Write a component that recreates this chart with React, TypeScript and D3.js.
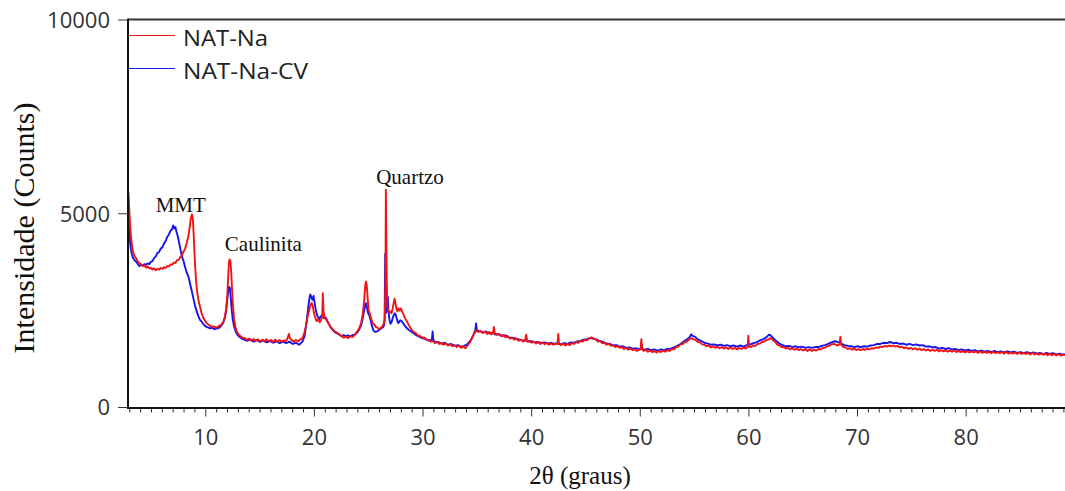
import React from "react";
import * as d3 from "d3";

// XRD scans: [2θ (degrees), intensity (counts)]
const natNa: [number, number][] = [
  [2.84,5450],[2.88,5550],[2.95,5150],[3.02,4800],[3.1,4450],[3.2,4200],[3.3,4020],[3.45,3900],[3.6,3850],[3.75,3760],[3.9,3720],[4.05,3690],[4.2,3650],[4.35,3670],[4.5,3610],[4.65,3640],[4.8,3590],[4.95,3600],[5.1,3560],[5.25,3590],[5.4,3540],[5.55,3580],[5.7,3560],[5.85,3600],[6.0,3580],[6.15,3620],[6.3,3600],[6.45,3650],[6.6,3640],[6.75,3690],[6.9,3680],[7.05,3740],[7.2,3730],[7.35,3800],[7.5,3810],[7.65,3880],[7.8,3930],[7.95,4020],[8.1,4100],[8.25,4250],[8.4,4420],[8.52,4650],[8.62,4880],[8.72,4980],[8.8,4900],[8.88,4500],[8.95,4050],[9.02,3650],[9.1,3300],[9.2,3000],[9.32,2780],[9.45,2620],[9.6,2450],[9.75,2330],[9.9,2250],[10.05,2190],[10.2,2150],[10.4,2110],[10.6,2080],[10.8,2090],[11.0,2060],[11.2,2100],[11.4,2130],[11.6,2200],[11.75,2330],[11.88,2550],[11.98,2900],[12.06,3350],[12.13,3750],[12.2,3820],[12.27,3780],[12.34,3500],[12.42,3050],[12.5,2650],[12.6,2300],[12.72,2080],[12.85,1960],[13.0,1890],[13.2,1840],[13.4,1800],
  [13.6,1790],[13.8,1740],[14.0,1780],[14.2,1720],[14.4,1770],[14.6,1730],[14.8,1760],[15.0,1700],[15.2,1750],[15.4,1710],[15.6,1760],[15.8,1700],[16.0,1740],[16.2,1690],[16.4,1750],[16.6,1700],[16.8,1740],[17.0,1700],[17.2,1730],[17.4,1720],[17.55,1800],[17.65,1900],[17.75,1790],[17.9,1740],[18.1,1700],[18.3,1740],[18.5,1710],[18.7,1760],[18.9,1790],[19.05,1900],[19.2,2080],[19.35,2300],[19.5,2500],[19.62,2620],[19.74,2700],[19.85,2620],[19.95,2450],[20.08,2320],[20.2,2230],[20.35,2270],[20.5,2200],[20.62,2260],[20.72,2350],[20.78,2950],[20.84,2500],[20.92,2330],[21.05,2290],[21.2,2210],[21.35,2140],[21.5,2080],[21.7,2010],[21.9,1960],[22.1,1930],[22.3,1880],[22.5,1850],[22.7,1800],[22.9,1830],[23.1,1790],[23.3,1840],[23.5,1820],[23.7,1870],[23.9,1950],[24.1,2030],[24.3,2180],[24.45,2400],[24.58,2750],[24.68,3150],[24.76,3250],[24.84,3100],[24.92,2750],[25.0,2500],[25.1,2420],[25.22,2300],[25.35,2180],[25.5,2150],[25.65,2080],[25.8,2060],[25.95,2030],[26.1,2050],[26.25,2090],[26.38,2160],[26.48,2300],[26.54,3200],[26.58,5620],[26.62,4400],[26.66,3300],[26.72,2600],[26.8,2500],[26.9,2450],[27.0,2480],[27.1,2430],[27.2,2550],[27.3,2700],[27.38,2810],[27.46,2700],[27.55,2550],[27.65,2480],[27.75,2560],[27.85,2500],[27.95,2560],[28.05,2500],[28.2,2400],[28.35,2300],[28.5,2230],[28.7,2120],[28.9,2030],[29.1,1960],[29.3,1930],[29.5,1870],[29.7,1850],[29.9,1800],
  [30.1,1810],[30.3,1760],[30.5,1740],[30.7,1700],[30.9,1720],[31.1,1660],[31.3,1690],[31.5,1640],[31.7,1660],[31.9,1620],[32.1,1650],[32.3,1600],[32.5,1630],[32.7,1580],[32.9,1610],[33.1,1560],[33.3,1600],[33.5,1540],[33.7,1570],[33.9,1530],[34.1,1600],[34.3,1680],[34.5,1780],[34.7,1900],[34.9,1990],[35.1,1950],[35.3,1980],[35.5,1920],[35.7,1960],[35.9,1900],[36.1,1950],[36.3,1890],[36.45,1930],[36.52,2080],[36.6,1910],[36.8,1880],[37.0,1900],[37.2,1840],[37.4,1870],[37.6,1810],[37.8,1840],[38.0,1780],[38.2,1800],[38.4,1750],[38.6,1780],[38.8,1720],[39.0,1750],[39.2,1700],[39.4,1730],[39.5,1880],[39.6,1700],[39.8,1720],
  [40.0,1670],[40.2,1700],[40.4,1650],[40.6,1690],[40.8,1640],[41.0,1680],[41.2,1630],[41.4,1670],[41.6,1620],[41.8,1660],[42.0,1620],[42.2,1650],[42.38,1640],[42.45,1900],[42.52,1640],[42.7,1610],[42.9,1650],[43.1,1600],[43.3,1640],[43.5,1610],[43.7,1660],[43.9,1640],[44.1,1690],[44.3,1670],[44.5,1720],[44.7,1700],[44.9,1750],[45.1,1730],[45.3,1790],[45.5,1810],[45.7,1770],[45.9,1760],[46.1,1700],[46.3,1720],[46.5,1660],[46.7,1670],[46.9,1620],[47.1,1640],[47.3,1590],[47.5,1610],[47.7,1560],[47.9,1580],[48.1,1540],[48.3,1560],[48.5,1510],[48.7,1540],[48.9,1490],[49.1,1520],[49.3,1480],[49.5,1500],[49.7,1460],[49.9,1490],
  [50.02,1500],[50.1,1760],[50.18,1500],[50.3,1460],[50.5,1490],[50.7,1440],[50.9,1470],[51.1,1430],[51.3,1460],[51.5,1420],[51.7,1460],[51.9,1430],[52.1,1470],[52.3,1440],[52.5,1480],[52.7,1460],[52.9,1510],[53.1,1500],[53.3,1560],[53.5,1570],[53.7,1630],[53.9,1640],[54.1,1690],[54.3,1700],[54.5,1760],[54.7,1790],[54.9,1760],[55.1,1740],[55.3,1690],[55.5,1680],[55.7,1630],[55.9,1620],[56.1,1580],[56.3,1600],[56.5,1550],[56.7,1580],[56.9,1540],[57.1,1570],[57.3,1530],[57.5,1560],[57.7,1520],[57.9,1550],[58.1,1510],[58.3,1550],[58.5,1510],[58.7,1540],[58.9,1500],[59.1,1540],[59.3,1510],[59.5,1550],[59.7,1520],[59.88,1560],[59.95,1850],[60.02,1570],
  [60.2,1560],[60.4,1600],[60.6,1590],[60.8,1640],[61.0,1650],[61.2,1690],[61.4,1700],[61.6,1740],[61.8,1760],[62.0,1790],[62.2,1740],[62.4,1700],[62.6,1630],[62.8,1600],[63.0,1560],[63.2,1560],[63.4,1520],[63.6,1540],[63.8,1500],[64.0,1530],[64.2,1490],[64.4,1520],[64.6,1480],[64.8,1510],[65.0,1470],[65.2,1500],[65.4,1460],[65.6,1500],[65.8,1460],[66.0,1490],[66.2,1470],[66.4,1510],[66.6,1500],[66.8,1540],[67.0,1540],[67.2,1580],[67.4,1590],[67.6,1630],[67.8,1640],[68.0,1620],[68.2,1600],[68.35,1640],[68.42,1830],[68.5,1620],[68.7,1560],[68.9,1550],[69.1,1510],[69.3,1530],[69.5,1490],[69.7,1520],[69.9,1480],
  [70.1,1510],[70.3,1480],[70.5,1510],[70.7,1490],[70.9,1520],[71.1,1500],[71.3,1530],[71.5,1520],[71.7,1550],[71.9,1540],[72.1,1570],[72.3,1560],[72.5,1590],[72.7,1570],[72.9,1600],[73.1,1580],[73.3,1600],[73.5,1570],[73.7,1590],[73.9,1550],[74.1,1570],[74.3,1530],[74.5,1550],[74.7,1510],[74.9,1540],[75.1,1500],[75.3,1530],[75.5,1490],[75.7,1520],[75.9,1480],[76.1,1510],[76.3,1470],[76.5,1500],[76.7,1460],[76.9,1490],[77.1,1460],[77.3,1490],[77.5,1450],[77.7,1480],[77.9,1450],[78.1,1480],[78.3,1440],[78.5,1470],[78.7,1440],[78.9,1470],[79.1,1430],[79.3,1460],[79.5,1430],[79.7,1460],[79.9,1420],
  [80.1,1460],[80.3,1420],[80.5,1450],[80.7,1420],[80.9,1450],[81.1,1410],[81.3,1450],[81.5,1410],[81.7,1440],[81.9,1410],[82.1,1440],[82.3,1400],[82.5,1440],[82.7,1400],[82.9,1430],[83.1,1400],[83.3,1430],[83.5,1390],[83.7,1430],[83.9,1390],[84.1,1420],[84.3,1390],[84.5,1420],[84.7,1380],[84.9,1420],[85.1,1380],[85.3,1410],[85.5,1380],[85.7,1410],[85.9,1370],[86.1,1410],[86.3,1370],[86.5,1400],[86.7,1360],[86.9,1400],[87.1,1360],[87.3,1390],[87.5,1350],[87.7,1390],[87.9,1350],[88.1,1380],[88.3,1340],[88.5,1380],[88.7,1340],[88.9,1370],[89.1,1350],
];

const natNaCv: [number, number][] = [
  [2.84,5000],[2.88,4850],[2.95,4550],[3.02,4300],[3.1,4100],[3.2,3950],[3.3,3860],[3.45,3800],[3.6,3760],[3.75,3700],[3.9,3650],[4.05,3690],[4.2,3660],[4.35,3700],[4.5,3680],[4.65,3720],[4.8,3700],[4.95,3760],[5.1,3780],[5.25,3860],[5.4,3900],[5.55,3990],[5.7,4010],[5.85,4100],[6.0,4130],[6.15,4230],[6.3,4290],[6.45,4400],[6.6,4460],[6.75,4560],[6.9,4600],[7.0,4700],[7.1,4620],[7.2,4660],[7.3,4540],[7.42,4420],[7.55,4250],[7.68,4060],[7.8,3900],[7.95,3780],[8.1,3620],[8.25,3480],[8.4,3380],[8.55,3200],[8.7,3020],[8.85,2830],[9.0,2640],[9.15,2500],[9.3,2370],[9.45,2270],[9.6,2220],[9.8,2140],[10.0,2090],[10.2,2070],[10.4,2040],[10.6,2060],[10.8,2020],[11.0,2040],[11.2,2050],[11.4,2100],[11.6,2180],[11.75,2310],[11.88,2500],[11.98,2780],[12.07,3000],[12.15,3120],[12.22,3080],[12.3,2850],[12.38,2550],[12.48,2280],[12.6,2100],[12.75,1960],[12.9,1880],[13.1,1820],[13.3,1780],[13.5,1760],
  [13.8,1720],[14.1,1760],[14.4,1700],[14.7,1740],[15.0,1690],[15.3,1730],[15.6,1680],[15.9,1720],[16.2,1670],[16.5,1710],[16.8,1660],[17.1,1700],[17.4,1660],[17.7,1700],[18.0,1640],[18.3,1670],[18.6,1620],[18.9,1700],[19.1,1850],[19.25,2150],[19.4,2500],[19.52,2780],[19.62,2920],[19.72,2850],[19.82,2780],[19.92,2880],[20.02,2700],[20.15,2480],[20.3,2350],[20.45,2280],[20.6,2360],[20.75,2380],[20.9,2300],[21.05,2320],[21.2,2230],[21.35,2150],[21.5,2060],[21.7,2000],[21.9,1940],[22.1,1910],[22.3,1880],[22.5,1840],[22.7,1870],[22.9,1840],[23.1,1860],[23.3,1830],[23.5,1870],[23.7,1880],[23.9,1920],[24.1,2000],[24.3,2120],[24.45,2300],[24.58,2500],[24.68,2650],[24.76,2690],[24.85,2560],[24.95,2430],[25.05,2380],[25.15,2280],[25.3,2100],[25.45,1980],[25.6,1950],[25.75,1960],[25.9,1990],[26.05,2020],[26.2,2050],[26.35,2080],[26.46,2200],[26.52,3970],[26.56,3000],[26.62,2450],[26.7,2550],[26.76,2850],[26.82,2500],[26.9,2280],[27.0,2160],[27.1,2200],[27.2,2300],[27.3,2380],[27.4,2430],[27.5,2380],[27.6,2280],[27.7,2180],[27.8,2200],[27.9,2250],[28.0,2240],[28.15,2180],[28.3,2120],[28.5,2050],[28.7,2000],[28.9,1960],[29.1,1920],[29.3,1880],[29.5,1850],[29.7,1820],[29.9,1790],
  [30.1,1780],[30.3,1750],[30.5,1730],[30.7,1740],[30.82,1760],[30.88,1960],[30.95,1740],[31.1,1700],[31.4,1690],[31.7,1650],[32.0,1670],[32.3,1620],[32.6,1640],[32.9,1590],[33.2,1610],[33.5,1570],[33.8,1590],[34.1,1640],[34.4,1740],[34.65,1880],[34.82,2000],[34.88,2170],[34.95,2000],[35.2,1970],[35.5,1940],[35.8,1960],[36.1,1910],[36.4,1930],[36.7,1880],[37.0,1890],[37.3,1850],[37.6,1860],[37.9,1810],[38.2,1800],[38.5,1780],[38.8,1760],[39.1,1740],[39.4,1730],[39.7,1700],
  [40.0,1710],[40.3,1680],[40.6,1690],[40.9,1660],[41.2,1680],[41.5,1650],[41.8,1670],[42.1,1640],[42.4,1660],[42.7,1630],[43.0,1660],[43.3,1640],[43.6,1680],[43.9,1670],[44.2,1710],[44.5,1720],[44.8,1750],[45.1,1760],[45.4,1790],[45.7,1780],[46.0,1750],[46.3,1710],[46.6,1690],[46.9,1650],[47.2,1640],[47.5,1600],[47.8,1610],[48.1,1570],[48.4,1580],[48.7,1540],[49.0,1550],[49.3,1520],[49.6,1530],[49.9,1500],
  [50.05,1520],[50.1,1640],[50.16,1510],[50.4,1490],[50.7,1510],[51.0,1480],[51.3,1500],[51.6,1470],[51.9,1500],[52.2,1480],[52.5,1510],[52.8,1520],[53.1,1550],[53.4,1590],[53.7,1640],[54.0,1700],[54.3,1760],[54.5,1800],[54.7,1890],[54.8,1850],[55.0,1830],[55.3,1760],[55.6,1720],[55.9,1670],[56.2,1650],[56.5,1620],[56.8,1630],[57.1,1600],[57.4,1620],[57.7,1590],[58.0,1610],[58.3,1580],[58.6,1600],[58.9,1570],[59.2,1600],[59.5,1570],[59.8,1610],
  [60.1,1620],[60.4,1660],[60.7,1680],[61.0,1730],[61.3,1760],[61.6,1810],[61.85,1880],[62.0,1860],[62.2,1800],[62.5,1720],[62.8,1650],[63.1,1610],[63.4,1580],[63.7,1590],[64.0,1560],[64.3,1580],[64.6,1550],[64.9,1570],[65.2,1540],[65.5,1560],[65.8,1540],[66.1,1560],[66.4,1560],[66.7,1590],[67.0,1610],[67.3,1640],[67.6,1680],[67.9,1710],[68.2,1690],[68.5,1650],[68.8,1610],[69.1,1590],[69.4,1580],[69.7,1560],
  [70.0,1580],[70.3,1560],[70.6,1580],[70.9,1570],[71.2,1600],[71.5,1610],[71.8,1640],[72.1,1640],[72.4,1670],[72.7,1660],[73.0,1690],[73.3,1660],[73.6,1670],[73.9,1640],[74.2,1650],[74.5,1620],[74.8,1640],[75.1,1610],[75.4,1630],[75.7,1600],[76.0,1610],[76.3,1570],[76.6,1580],[76.9,1550],[77.2,1560],[77.5,1520],[77.8,1540],[78.1,1510],[78.4,1530],[78.7,1500],[79.0,1510],[79.3,1480],[79.6,1500],[79.9,1470],
  [80.2,1490],[80.5,1460],[80.8,1480],[81.1,1450],[81.4,1470],[81.7,1440],[82.0,1460],[82.3,1430],[82.6,1460],[82.9,1430],[83.2,1450],[83.5,1420],[83.8,1450],[84.1,1420],[84.4,1440],[84.7,1410],[85.0,1430],[85.3,1400],[85.6,1430],[85.9,1400],[86.2,1420],[86.5,1390],[86.8,1410],[87.1,1380],[87.4,1410],[87.7,1380],[88.0,1400],[88.3,1370],[88.6,1390],[88.9,1360],[89.1,1380],
];

const seriesNames = ["NAT-Na", "NAT-Na-CV"];
const seriesColors = ["#f01414", "#1414f0"];

const yTicks = [0, 5000, 10000];
const xMajorTicks = [10, 20, 30, 40, 50, 60, 70, 80];
const xMinorTicks = d3.range(3, 90, 1).filter((v) => v % 10 !== 0);

// Phase labels placed at [2θ, counts]
const phaseLabels: { text: string; x: number; y: number }[] = [
  { text: "MMT", x: 7.7, y: 5040 },
  { text: "Caulinita", x: 15.3, y: 4040 },
  { text: "Quartzo", x: 28.8, y: 5770 },
];

const W = 1065;
const H = 491;
const left = 128;
const right = 1065;
const top = 20;
const bottom = 407.5;

export default function App() {
  const x = d3.scaleLinear().domain([2.84, 89.1]).range([left, right]);
  const y = d3.scaleLinear().domain([0, 10000]).range([bottom, top]);
  const line = d3
    .line<[number, number]>()
    .x((d) => x(d[0]))
    .y((d) => y(d[1]));

  const sans = "'Open Sans', 'Noto Sans', sans-serif";
  const serif = "'Liberation Serif', 'Times New Roman', serif";

  return (
    <svg
      width={W}
      height={H}
      style={{ position: "absolute", left: 0, top: 0, background: "#fff" }}
    >
      <defs>
        <clipPath id="plot">
          <rect x={left} y={top - 1} width={right - left} height={bottom - top + 1} />
        </clipPath>
      </defs>

      <g clipPath="url(#plot)">
        <path d={line(natNaCv) ?? ""} fill="none" stroke={seriesColors[1]} strokeWidth={1.9} strokeLinejoin="round" />
        <path d={line(natNa) ?? ""} fill="none" stroke={seriesColors[0]} strokeWidth={1.9} strokeLinejoin="round" />
      </g>

      {/* frame */}
      <line x1={left} x2={right} y1={top - 0.5} y2={top - 0.5} stroke="#333" strokeWidth={2} />
      <line x1={left} x2={left} y1={top - 1.5} y2={bottom + 1} stroke="#111" strokeWidth={2} />
      <line x1={left - 1} x2={right} y1={bottom + 0.5} y2={bottom + 0.5} stroke="#111" strokeWidth={2} />

      {/* y axis */}
      {yTicks.map((t) => (
        <g key={t}>
          <line x1={left - 10} x2={left} y1={y(t)} y2={y(t)} stroke="#333" strokeWidth={1} />
          <text x={110} y={y(t)} dy="0.36em" textAnchor="end" fontFamily={sans} fontSize={22} fill="#333">
            {t}
          </text>
        </g>
      ))}

      {/* x axis */}
      {xMinorTicks.map((t) => (
        <line key={t} x1={x(t)} x2={x(t)} y1={bottom + 1} y2={bottom + 5} stroke="#333" strokeWidth={1} />
      ))}
      {xMajorTicks.map((t) => (
        <g key={t}>
          <line x1={x(t)} x2={x(t)} y1={bottom + 1} y2={bottom + 9} stroke="#333" strokeWidth={1} />
          <text x={x(t)} y={445} textAnchor="middle" fontFamily={sans} fontSize={22} fill="#333">
            {t}
          </text>
        </g>
      ))}

      {/* axis titles */}
      <text
        transform="translate(34,228) rotate(-90)"
        textAnchor="middle"
        fontFamily={serif}
        fontSize={30}
        fill="#111"
      >
        Intensidade (Counts)
      </text>
      <text x={580} y={484} textAnchor="middle" fontFamily={serif} fontSize={25} fill="#111">
        2θ (graus)
      </text>

      {/* phase labels */}
      {phaseLabels.map((p) => (
        <text key={p.text} x={x(p.x)} y={y(p.y)} textAnchor="middle" fontFamily={serif} fontSize={21} fill="#111">
          {p.text}
        </text>
      ))}

      {/* legend */}
      {seriesNames.map((name, i) => (
        <g key={name}>
          <line x1={left + 1} x2={175} y1={35.5 + i * 33} y2={35.5 + i * 33} stroke={seriesColors[i]} strokeWidth={1.2} />
          <text
            x={183}
            y={46 + i * 33}
            fontFamily={sans}
            fontSize={21}
            fill="#222"
            textLength={i === 0 ? 85 : 125}
            lengthAdjust="spacingAndGlyphs"
          >
            {name}
          </text>
        </g>
      ))}
    </svg>
  );
}
